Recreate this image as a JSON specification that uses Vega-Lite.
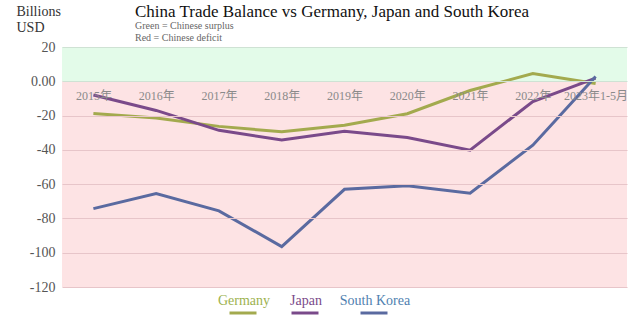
{
  "$schema": "https://vega.github.io/schema/vega-lite/v6.json",
  "width": 565,
  "height": 240,
  "autosize": {"type": "none"},
  "padding": {"left": 62, "top": 47, "right": 13, "bottom": 42},
  "background": "white",
  "config": {"view": {"stroke": null}, "font": "Liberation Serif"},
  "title": {
    "text": "China Trade Balance vs Germany, Japan and South Korea",
    "subtitle": ["Green = Chinese surplus", "Red = Chinese deficit"],
    "anchor": "start",
    "frame": "group",
    "dx": 73,
    "dy": 42,
    "offset": 2,
    "font": "Liberation Serif",
    "fontSize": 17,
    "fontWeight": "normal",
    "color": "#111111",
    "subtitleFont": "Liberation Serif",
    "subtitleFontSize": 10,
    "subtitleColor": "#666666",
    "subtitlePadding": 0,
    "subtitleLineHeight": 12
  },
  "datasets": {
    "trade": [
      {"year": "2015年", "country": "Germany", "value": -18.8},
      {"year": "2016年", "country": "Germany", "value": -21.4},
      {"year": "2017年", "country": "Germany", "value": -26.3},
      {"year": "2018年", "country": "Germany", "value": -29.5},
      {"year": "2019年", "country": "Germany", "value": -25.7},
      {"year": "2020年", "country": "Germany", "value": -18.9},
      {"year": "2021年", "country": "Germany", "value": -5.4},
      {"year": "2022年", "country": "Germany", "value": 4.5},
      {"year": "2023年1-5月", "country": "Germany", "value": -1.3},
      {"year": "2015年", "country": "Japan", "value": -8},
      {"year": "2016年", "country": "Japan", "value": -17},
      {"year": "2017年", "country": "Japan", "value": -28.6},
      {"year": "2018年", "country": "Japan", "value": -34.2},
      {"year": "2019年", "country": "Japan", "value": -29.2},
      {"year": "2020年", "country": "Japan", "value": -32.8},
      {"year": "2021年", "country": "Japan", "value": -40.2},
      {"year": "2022年", "country": "Japan", "value": -11.8},
      {"year": "2023年1-5月", "country": "Japan", "value": 1.8},
      {"year": "2015年", "country": "South Korea", "value": -74.3},
      {"year": "2016年", "country": "South Korea", "value": -65.5},
      {"year": "2017年", "country": "South Korea", "value": -75.6},
      {"year": "2018年", "country": "South Korea", "value": -96.4},
      {"year": "2019年", "country": "South Korea", "value": -63},
      {"year": "2020年", "country": "South Korea", "value": -61},
      {"year": "2021年", "country": "South Korea", "value": -65.3},
      {"year": "2022年", "country": "South Korea", "value": -37.3},
      {"year": "2023年1-5月", "country": "South Korea", "value": 2.8}
    ]
  },
  "data": {"name": "trade"},
  "encoding": {
    "x": {
      "field": "year",
      "type": "ordinal",
      "sort": null,
      "scale": {"paddingInner": 0, "paddingOuter": 0.5},
      "axis": {
        "title": null,
        "orient": "bottom",
        "offset": -206,
        "domain": false,
        "ticks": false,
        "labelAngle": 0,
        "labelPadding": 9,
        "labelFont": "Liberation Serif, Noto Sans CJK SC",
        "labelFontSize": 12,
        "labelColor": "#8a8a8a",
        "zindex": 1
      }
    },
    "y": {
      "field": "value",
      "type": "quantitative",
      "scale": {"domain": [-120, 20], "nice": false, "zero": false},
      "axis": {
        "title": ["Billions", "USD"],
        "titleAngle": 0,
        "titleAlign": "left",
        "titleBaseline": "top",
        "titleX": -46,
        "titleY": -43,
        "titleFont": "Liberation Serif",
        "titleFontSize": 14,
        "titleFontWeight": "normal",
        "titleLineHeight": 16,
        "titleColor": "#333333",
        "values": [-120, -100, -80, -60, -40, -20, 0, 20],
        "labelExpr": "datum.value == 0 ? '0.00' : '' + datum.value",
        "labelFont": "Liberation Serif",
        "labelFontSize": 14,
        "labelColor": "#555555",
        "labelPadding": 7,
        "domain": false,
        "ticks": false,
        "grid": true,
        "gridColor": {"condition": {"test": "datum.value >= 0", "value": "#cfe2d4"}, "value": "#e7c5c9"},
        "gridWidth": 1,
        "zindex": 1
      }
    }
  },
  "layer": [
    {
      "mark": {"type": "rect", "fill": "#e3fbe9"},
      "encoding": {"x": {"value": 0}, "x2": {"value": {"expr": "width"}}, "y": {"datum": 20}, "y2": {"datum": 0}}
    },
    {
      "mark": {"type": "rect", "fill": "#fde3e4"},
      "encoding": {"x": {"value": 0}, "x2": {"value": {"expr": "width"}}, "y": {"datum": 0}, "y2": {"datum": -120}}
    },
    {
      "mark": {"type": "line", "strokeWidth": 3},
      "encoding": {
        "color": {
          "field": "country",
          "type": "nominal",
          "scale": {"domain": ["Germany", "Japan", "South Korea"], "range": ["#a3aa4e", "#7a4a8a", "#5a6aa0"]},
          "legend": {
            "title": null,
            "orient": "none",
            "legendX": 166,
            "legendY": 251,
            "direction": "horizontal",
            "symbolType": "stroke",
            "symbolSize": 729,
            "symbolStrokeWidth": 3,
            "labelFont": "Liberation Serif",
            "labelFontSize": 14,
            "labelColor": {"expr": "datum.label == 'Germany' ? '#9db24f' : datum.label == 'Japan' ? '#7a4a8a' : '#4f7fb0'"},
            "labelAlign": "center",
            "labelOffset": -14,
            "labelBaseline": "middle",
            "columnPadding": 14,
            "encode": {"labels": {"update": {"dy": {"value": -12}}}}
          }
        }
      }
    }
  ]
}
